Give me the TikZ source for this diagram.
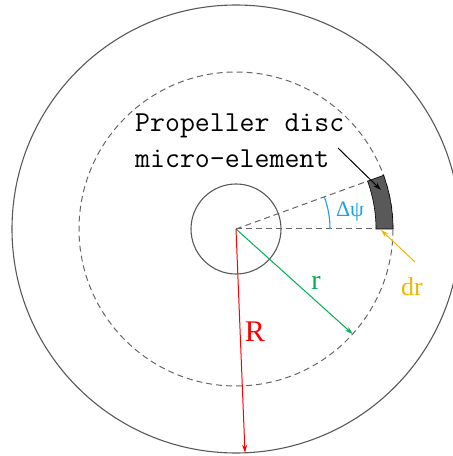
\documentclass[tikz,border=0pt]{standalone}
\usepackage{fontspec}
\setmainfont{Liberation Serif}
\usetikzlibrary{arrows.meta}
\definecolor{cgrey}{HTML}{595959}
\definecolor{dgrey}{HTML}{666666}
\definecolor{cgreen}{HTML}{00B050}
\definecolor{cgold}{HTML}{F2B600}
\definecolor{cblue}{HTML}{1EA0E6}
\tikzset{
  ring/.style={draw=cgrey, line width=1.1pt},
  dashring/.style={draw=dgrey, line width=1pt, dash pattern=on 6pt off 4pt},
  tip/.style={-{Stealth[length=8pt,width=5pt]}},
}
\begin{document}
\begin{tikzpicture}[x=1pt,y=1pt]
\useasboundingbox (0,0) rectangle (453,456);
\coordinate (C) at (236,227);
% circles
\draw[ring] (C) circle[radius=224];
\draw[dashring] (C) circle[radius=157];
\draw[ring] (C) circle[radius=45];
% dashed radii
\path (C) ++(0:157) coordinate (E0);
\path (C) ++(20:140) coordinate (E1);
\draw[dashring] (C) -- (E0);
\draw[dashring] (C) -- (E1);
% micro-element
\fill[cgrey, draw=black, line width=0.6pt] (C) ++(0:140) arc[start angle=0, end angle=20, radius=140]
  -- ++(20:17) arc[start angle=20, end angle=0, radius=157] -- cycle;
% delta psi arc
\draw[cblue, line width=1.1pt] (C) ++(0:94) arc[start angle=0, end angle=20, radius=94];
\node[text=cblue, font=\fontsize{22}{26}\selectfont, inner sep=0] (dpsi) at (350,244) {Δψ};
% text label
\node[align=left, anchor=base west, inner sep=0, font=\ttfamily\fontsize{29}{36}\selectfont] (lbl) at (135,288) {Propeller disc\\micro-element};
\coordinate (LA) at (338,308);
\coordinate (LB) at (381,266);
\draw[black, line width=1pt, tip] (LA) -- (LB);
% dr
\coordinate (DA) at (415,194);
\coordinate (DB) at (381,226);
\draw[cgold, line width=1pt, tip] (DA) -- (DB);
\node[text=cgold, font=\fontsize{26}{30}\selectfont, inner sep=0] (dr) at (412,169) {dr};
% r
\path (C) ++(-42:157) coordinate (RT);
\draw[cgreen, line width=1pt, tip] (C) -- (RT);
\node[text=cgreen, font=\fontsize{28}{30}\selectfont, inner sep=0] (rl) at (316,173) {r};
% R
\path (C) ++(-87.7:224) coordinate (RR);
\draw[red, line width=1pt, tip] (C) -- (RR);
\node[text=red, font=\fontsize{30}{34}\selectfont, inner sep=0] (Rl) at (255,124) {R};
\end{tikzpicture}
\end{document}
